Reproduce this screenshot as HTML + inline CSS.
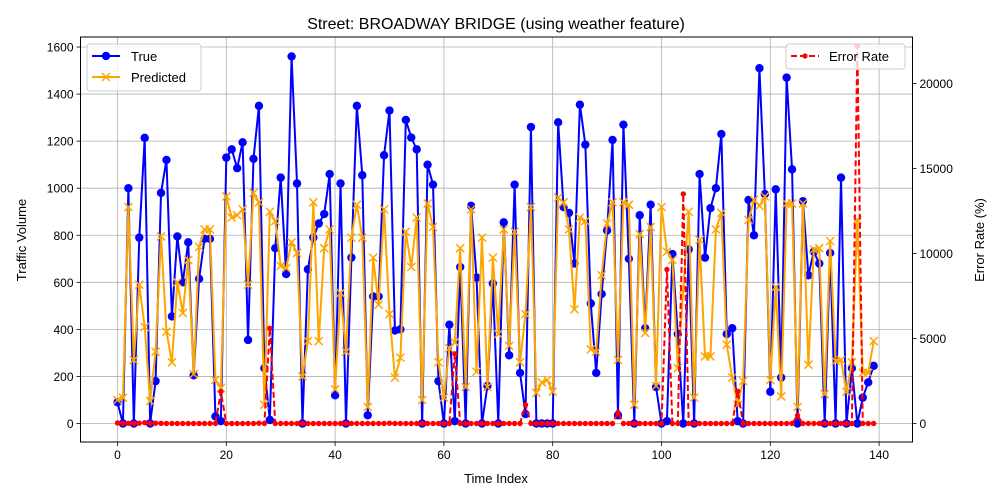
<!DOCTYPE html>
<html><head><meta charset="utf-8"><style>
html,body{margin:0;padding:0;background:#fff;}
svg{display:block;font-family:"Liberation Sans","DejaVu Sans",sans-serif;}
</style></head><body>
<svg id="chart" width="1000" height="500" viewBox="0 0 1000 500">
<rect width="1000" height="500" fill="#fff"/>
<g id="grid"></g>
<g id="series"></g>
<g id="axes"></g>
<text x="496" y="29" text-anchor="middle" font-size="16" fill="#000">Street: BROADWAY BRIDGE (using weather feature)</text>
<text x="496" y="483" text-anchor="middle" font-size="13">Time Index</text>
<text x="26" y="240" text-anchor="middle" font-size="13" transform="rotate(-90 26 240)">Traffic Volume</text>
<text x="984" y="240" text-anchor="middle" font-size="13" transform="rotate(-90 984 240)">Error Rate (%)</text>
<g>
<rect x="87" y="44" width="114" height="47" rx="3" fill="#fff" fill-opacity="0.8" stroke="#ccc"/>
<g>
<line x1="92" y1="56" x2="120" y2="56" stroke="#0000ff" stroke-width="2"/>
<circle cx="106" cy="56" r="4.2" fill="#0000ff"/>
<text x="131" y="61" font-size="13">True</text></g>
<g>
<line x1="92" y1="77" x2="120" y2="77" stroke="#ffa500" stroke-width="2"/>
<path d="M102 73 L110 81 M110 73 L102 81" stroke="#ffa500" stroke-width="1.5"/>
<text x="131" y="82" font-size="13">Predicted</text></g>
</g>
<g>
<rect x="786" y="44" width="119" height="25" rx="3" fill="#fff" fill-opacity="0.8" stroke="#ccc"/>
<g>
<line x1="791" y1="56" x2="819" y2="56" stroke="#ff0000" stroke-width="2" stroke-dasharray="6,3"/>
<circle cx="805" cy="56" r="2.6" fill="#ff0000"/>
<text x="829" y="61" font-size="13">Error Rate</text></g>
</g>
</svg>
<script>
const trueVals=[90,0,1000,0,790,1214,0,180,980,1120,
455,795,600,770,205,615,785,785,30,10,
1130,1165,1085,1195,355,1125,1350,235,15,745,
1045,635,1560,1020,0,655,790,850,890,1060,
120,1020,0,705,1350,1055,35,540,540,1140,
1330,395,400,1290,1215,1165,0,1100,1015,180,
0,420,10,665,0,925,620,0,160,595,
0,855,290,1015,215,40,1260,0,0,0,
0,1280,920,895,680,1355,1185,510,215,550,
820,1205,35,1270,700,0,885,405,930,155,
0,10,720,380,0,740,0,1060,705,915,
1000,1230,380,405,10,0,950,800,1510,975,
135,995,195,1470,1080,0,945,630,730,680,
0,725,0,1045,0,235,0,110,175,245];
const predVals=[100,110,920,270,590,410,95,305,795,390,
260,600,470,695,210,750,825,825,185,150,
965,875,885,910,590,980,940,80,900,860,
670,660,770,725,200,350,940,350,745,825,
145,555,305,790,930,790,70,705,505,910,
465,195,280,815,665,875,100,935,835,260,
110,320,345,745,155,910,220,790,155,705,
380,825,330,815,260,465,920,130,175,185,
135,960,940,825,485,875,860,315,305,630,
850,940,270,940,930,80,805,385,835,160,
920,730,695,235,570,900,110,780,285,285,
825,895,335,195,80,180,865,950,925,965,
185,580,115,935,935,70,935,250,740,745,
125,775,265,270,135,260,865,215,215,350];
const errVals=[30,0,10,0,20,50,0,20,10,0,
0,0,0,0,0,0,0,0,0,1880,
0,0,0,0,0,0,20,0,5600,0,
0,0,0,0,0,0,0,0,0,0,
0,0,0,0,0,0,0,0,0,0,
20,0,0,0,0,0,0,0,0,0,
0,0,4100,0,0,0,0,0,0,0,
0,0,0,0,0,1100,0,0,0,0,
0,0,0,0,0,0,0,0,0,0,
0,0,650,0,0,0,0,0,0,0,
0,9060,0,0,13500,0,0,0,0,0,
0,0,0,0,1900,0,0,0,0,0,
0,0,0,0,0,470,0,0,0,0,
0,0,0,0,0,0,22200,0,0,0];
const xTicks=[0,20,40,60,80,100,120,140];
const yTicks=[0,200,400,600,800,1000,1200,1400,1600];
const y2Ticks=[0,5000,10000,15000,20000];

const L=80.5,R=912.5,T=37,B=442;
const xs=i=>117.5+i*5.44;
const ys=v=>423.5-v*0.2353;
const ys2=v=>423.5-v*0.017;
const NS='http://www.w3.org/2000/svg';
function mk(tag,attrs,parent){const e=document.createElementNS(NS,tag);for(const k in attrs)e.setAttribute(k,attrs[k]);parent.appendChild(e);return e;}
const grid=document.getElementById('grid'),series=document.getElementById('series'),axes=document.getElementById('axes');

xTicks.forEach(t=>{
 const g=mk('line',{x1:xs(t),x2:xs(t),y1:T,y2:B,stroke:'#b0b0b0','stroke-width':0.8},grid);
 
 
 mk('line',{x1:xs(t),x2:xs(t),y1:B,y2:B+4,stroke:'#000','stroke-width':0.8},axes);
 const tx=mk('text',{x:xs(t),y:B+17,'text-anchor':'middle','font-size':12},axes);
 tx.textContent=t;
 
 
});
yTicks.forEach(t=>{
 const g=mk('line',{x1:L,x2:R,y1:ys(t),y2:ys(t),stroke:'#b0b0b0','stroke-width':0.8},grid);
 
 
 mk('line',{x1:L-4,x2:L,y1:ys(t),y2:ys(t),stroke:'#000','stroke-width':0.8},axes);
 const tx=mk('text',{x:L-7,y:ys(t)+4.5,'text-anchor':'end','font-size':12},axes);
 tx.textContent=t;
 
 
});
y2Ticks.forEach(t=>{
 mk('line',{x1:R,x2:R+4,y1:ys2(t),y2:ys2(t),stroke:'#000','stroke-width':0.8},axes);
 const tx=mk('text',{x:R+7,y:ys2(t)+4.5,'text-anchor':'start','font-size':12},axes);
 tx.textContent=t;
 
 
});
const fr=mk('rect',{x:L,y:T,width:R-L,height:B-T,fill:'none',stroke:'#000','stroke-width':1},axes);



// True series
const tp=mk('polyline',{points:trueVals.map((v,i)=>xs(i)+','+ys(v)).join(' '),fill:'none',stroke:'#0000ff','stroke-width':2,'stroke-linejoin':'round'},series);


trueVals.forEach((v,i)=>{
 const c=mk('circle',{cx:xs(i),cy:ys(v),r:4.2,fill:'#0000ff'},series);
 
 
});
// Predicted series
const pp=mk('polyline',{points:predVals.map((v,i)=>xs(i)+','+ys(v)).join(' '),fill:'none',stroke:'#ffa500','stroke-width':2,'stroke-linejoin':'round'},series);


predVals.forEach((v,i)=>{
 const x=xs(i),y=ys(v);
 const m=mk('path',{d:`M${x-4} ${y-4}L${x+4} ${y+4}M${x+4} ${y-4}L${x-4} ${y+4}`,stroke:'#ffa500','stroke-width':1.5},series);
 
 
});
// Error rate series
const ep=mk('polyline',{points:errVals.map((v,i)=>xs(i)+','+ys2(v)).join(' '),fill:'none',stroke:'#ff0000','stroke-width':2,'stroke-dasharray':'6,3'},series);


errVals.forEach((v,i)=>{
 const c=mk('circle',{cx:xs(i),cy:ys2(v),r:2.7,fill:'#ff0000'},series);
 
 
});
</script>
</body></html>
